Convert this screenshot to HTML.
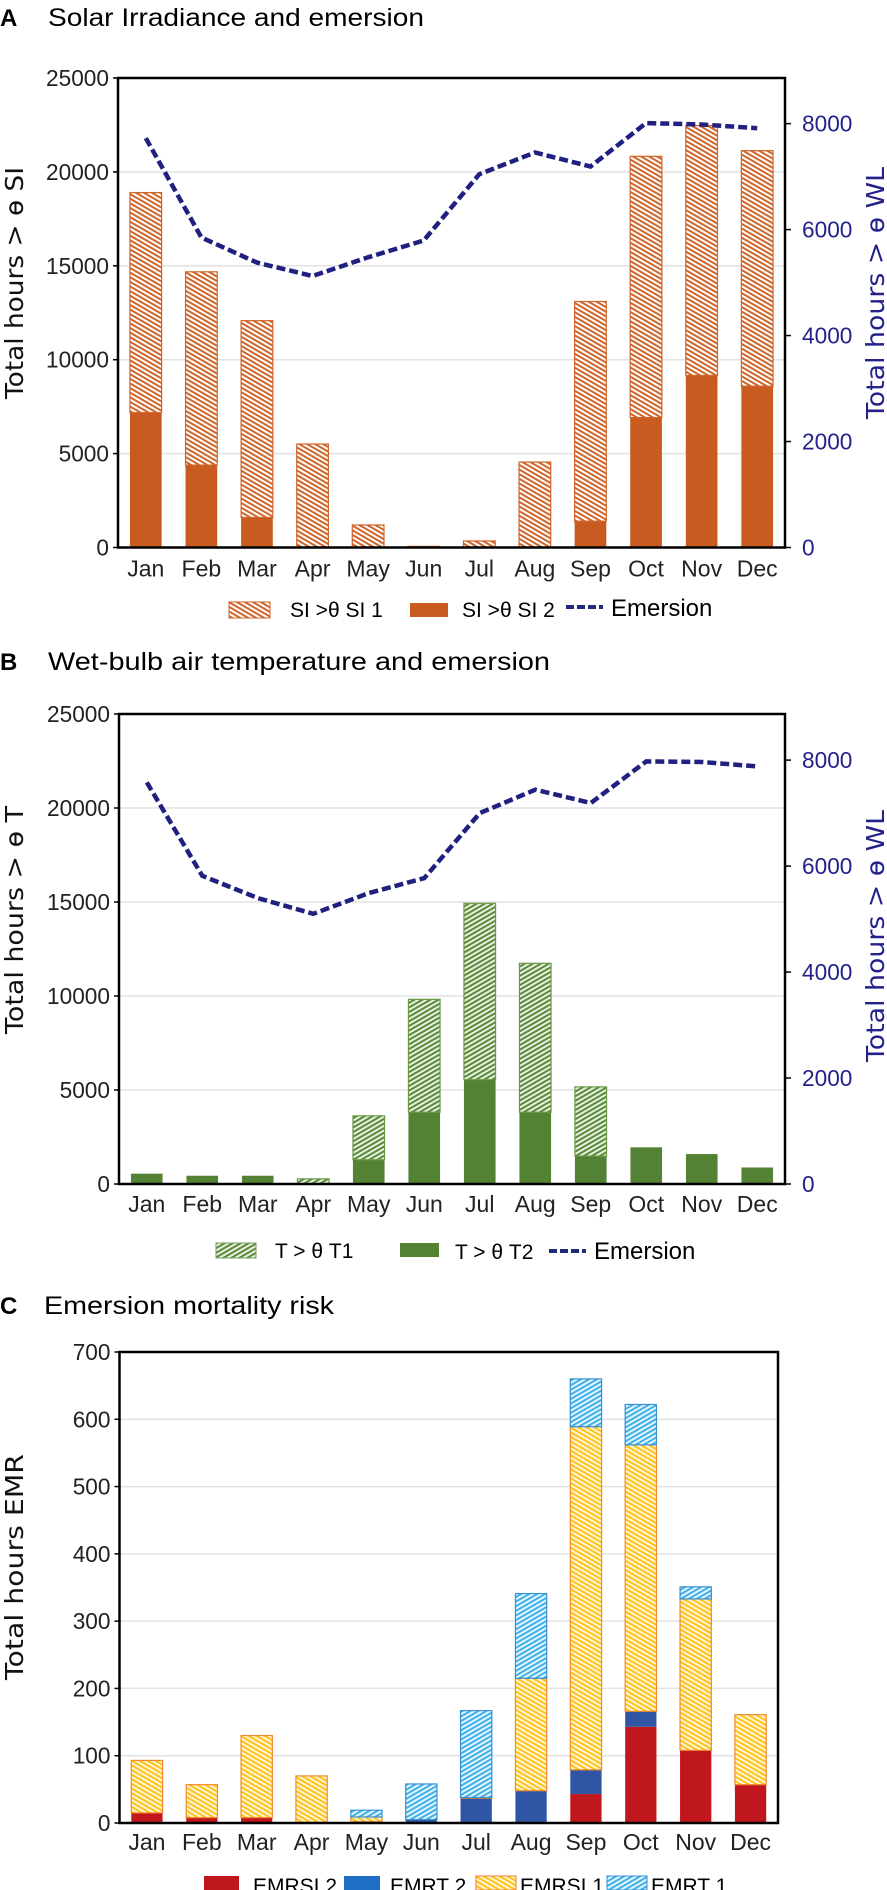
<!DOCTYPE html>
<html><head><meta charset="utf-8"><style>
html,body{margin:0;padding:0;background:#fff;}
svg{display:block;}
text{font-family:"Liberation Sans Narrow","Liberation Sans",sans-serif;}
.t{font-family:"DejaVu Sans","Liberation Sans",sans-serif;}
</style></head><body>
<svg id="chart" width="887" height="1890" viewBox="0 0 887 1890" xmlns="http://www.w3.org/2000/svg">
<defs>
<pattern id="pSI1" patternUnits="userSpaceOnUse" width="4" height="4" patternTransform="rotate(-60)"><rect width="4" height="4" fill="#fff"/><rect width="2" height="4" fill="#d0652a"/></pattern>
<pattern id="pT1" patternUnits="userSpaceOnUse" width="4" height="4" patternTransform="rotate(60)"><rect width="4" height="4" fill="#e8f0e0"/><rect width="2" height="4" fill="#5a8a3a"/></pattern>
<pattern id="pE1" patternUnits="userSpaceOnUse" width="4" height="4" patternTransform="rotate(-60)"><rect width="4" height="4" fill="#fff6d8"/><rect width="2" height="4" fill="#ffc21a"/></pattern>
<pattern id="pR1" patternUnits="userSpaceOnUse" width="4" height="4" patternTransform="rotate(60)"><rect width="4" height="4" fill="#e6f6ff"/><rect width="2" height="4" fill="#3fb0ea"/></pattern>
</defs>

<!-- Titles -->
<text x="0" y="26" font-size="24" font-weight="bold" font-family="Liberation Sans">A</text>
<text x="48" y="26" font-size="25" textLength="376" lengthAdjust="spacingAndGlyphs">Solar Irradiance and emersion</text>
<text x="0" y="670" font-size="24" font-weight="bold" font-family="Liberation Sans">B</text>
<text x="48" y="670" font-size="25" textLength="502" lengthAdjust="spacingAndGlyphs">Wet-bulb air temperature and emersion</text>
<text x="0" y="1314" font-size="24" font-weight="bold" font-family="Liberation Sans">C</text>
<text x="44" y="1314" font-size="25" textLength="290" lengthAdjust="spacingAndGlyphs" font-family="Liberation Sans">Emersion mortality risk</text>

<!-- Legend A -->
<g>
<rect x="229" y="602" width="41" height="16" fill="url(#pSI1)" stroke="#d0652a" stroke-width="1"/>
<text x="290" y="617" font-size="21">SI &gt;θ SI 1</text>
<rect x="410" y="603" width="38" height="14" fill="#c95a20"/>
<text x="462" y="617" font-size="21">SI &gt;θ SI 2</text>
<line x1="566" y1="607" x2="603" y2="607" stroke="#1f2a7a" stroke-width="4" stroke-dasharray="8 3"/>
<text x="611" y="616" font-size="24">Emersion</text>
</g>
<!-- Legend B -->
<g>
<rect x="216" y="1243" width="40" height="15" fill="url(#pT1)" stroke="#7aa060" stroke-width="1"/>
<text x="275" y="1258" font-size="21">T &gt; θ  T1</text>
<rect x="400" y="1243" width="39" height="14" fill="#548235"/>
<text x="455" y="1259" font-size="21">T &gt; θ  T2</text>
<line x1="549" y1="1251" x2="586" y2="1251" stroke="#1f2a7a" stroke-width="4" stroke-dasharray="8 3"/>
<text x="594" y="1259" font-size="24">Emersion</text>
</g>
<!-- Legend C -->
<g>
<rect x="204" y="1876" width="35" height="14" fill="#c0161e"/>
<text x="253" y="1893" font-size="21">EMRSI 2</text>
<rect x="344" y="1876" width="36" height="14" fill="#1f6fc4"/>
<text x="390" y="1893" font-size="21">EMRT 2</text>
<rect x="476" y="1876" width="40" height="14" fill="url(#pE1)" stroke="#ed7d31" stroke-width="1"/>
<text x="520" y="1893" font-size="21">EMRSI 1</text>
<rect x="607" y="1876" width="40" height="14" fill="url(#pR1)" stroke="#3a8fd0" stroke-width="1"/>
<text x="651" y="1893" font-size="21">EMRT 1</text>
</g>
</svg>
<script>
const months = ["Jan","Feb","Mar","Apr","May","Jun","Jul","Aug","Sep","Oct","Nov","Dec"];
// Panel A
const si2Hours = [7180,4390,1600,0,0,0,0,0,1400,6920,9160,8590];
const si1Hours = [11720,10290,10480,5510,1200,60,350,4550,11700,13910,13310,12540];
const emersionA = [7727,5850,5377,5125,5477,5795,7045,7455,7190,8009,7984,7914];
// Panel B
const t2Hours = [549,440,440,0,1291,3819,5550,3819,1484,1950,1593,879];
const t1Hours = [0,0,0,275,2335,6005,9380,7921,3681,0,0,0];
const emersionB = [7579,5817,5395,5099,5490,5773,7000,7441,7190,7976,7964,7881];
// Panel C
const emrsi2 = [15,8,8,1,2,0,0,0,43,143,108,57];
const emrt2 = [0,0,0,0,0,5,37,48,36,23,0,0];
const emrsi1 = [78,49,122,69,7,0,1,167,510,396,225,104];
const emrt1 = [0,0,0,0,10,53,129,126,71,60,18,0];
// Ticks
const leftTicksAB = [0,5000,10000,15000,20000,25000];
const rightTicksAB = [0,2000,4000,6000,8000];
const ticksC = [0,100,200,300,400,500,600,700];

const svg = document.getElementById('chart');
const NS = 'http://www.w3.org/2000/svg';
function mk(tag, attrs, parent) {
  const e = document.createElementNS(NS, tag);
  for (const k in attrs) e.setAttribute(k, attrs[k]);
  (parent || svg).appendChild(e);
  return e;
}

function panel(cfg) {
  const L = cfg.left, R = cfg.right, T = cfg.top, B = cfg.bottom;
  const band = (R - L) / 12;
  const y = v => B - v / cfg.max * (B - T);
  const x = i => L + band * (i + 0.5);
  const g = mk('g', {});
  
  
  // gridlines
  cfg.ticks.forEach(t => {
    if (t > 0 && t < cfg.max) {
      const gl = mk('line', {x1: L, x2: R, y1: y(t), y2: y(t), stroke: '#e2e2e2', 'stroke-width': 1.5}, g);
      
      
    }
    const lbl = mk('text', {x: L - 9, y: y(t) + 8, 'font-size': 23, 'text-anchor': 'end', fill: '#222', textLength: String(t).length * 12.6, lengthAdjust: 'spacingAndGlyphs'}, g);
    lbl.textContent = t;
    
    
    const tk = mk('line', {x1: L - 5, x2: L, y1: y(t), y2: y(t), stroke: '#000', 'stroke-width': 1.5}, g);
    
    
  });
  // bars
  const bw = band * 0.57;
  months.forEach((m, i) => {
    let base = 0;
    cfg.series.forEach(s => {
      const v = s.data[i];
      if (v > 0) {
        const r = mk('rect', {x: x(i) - bw / 2, y: y(base + v), width: bw, height: y(base) - y(base + v), fill: s.fill, stroke: s.stroke || 'none', 'stroke-width': s.stroke ? 1.2 : 0}, g);
        
        
      }
      base += v;
    });
    const ml = mk('text', {x: x(i), y: B + cfg.monthDy, 'font-size': 23, 'text-anchor': 'middle', fill: '#222'}, g);
    ml.textContent = m;
    
    
  });
  // right axis + line
  if (cfg.line) {
    const yr = v => B - v / cfg.rmax * (B - T);
    rightTicksAB.forEach(t => {
      const tk = mk('line', {x1: R, x2: R + 6, y1: yr(t), y2: yr(t), stroke: '#000', 'stroke-width': 1.5}, g);
      
      
      const lbl = mk('text', {x: R + 17, y: yr(t) + 8, 'font-size': 23, fill: '#22228a', textLength: String(t).length * 12.6, lengthAdjust: 'spacingAndGlyphs'}, g);
      lbl.textContent = t;
      
      
    });
    const pts = cfg.line.map((v, i) => x(i).toFixed(1) + ',' + yr(v).toFixed(1)).join(' ');
    const pl = mk('polyline', {points: pts, fill: 'none', stroke: '#1f2080', 'stroke-width': 4.5, 'stroke-dasharray': '9 4'}, g);
    
    
    const rt = mk('text', {x: 0, y: 0, 'font-size': 25, fill: '#22228a', class: 't', 'text-anchor': 'middle', textLength: cfg.rTitleLen, lengthAdjust: 'spacingAndGlyphs', transform: 'translate(884,' + cfg.rTitleY + ') rotate(-90)'}, g);
    rt.textContent = cfg.rTitle;
    
    
  }
  // frame
  const fr = mk('rect', {x: L, y: T, width: R - L, height: B - T, fill: 'none', stroke: '#000', 'stroke-width': 2.5}, g);
  
  
  const lt = mk('text', {x: 0, y: 0, 'font-size': 25, fill: '#111', class: 't', 'text-anchor': 'middle', textLength: cfg.lTitleLen, lengthAdjust: 'spacingAndGlyphs', transform: 'translate(23,' + cfg.lTitleY + ') rotate(-90)'}, g);
  lt.textContent = cfg.lTitle;
  
  
}

panel({name: 'panel-a', left: 118, right: 785, top: 78, bottom: 547.5, max: 25000, rmax: 8861, ticks: leftTicksAB, monthDy: 29,
  series: [{key: 'si2', data: si2Hours, fill: '#c95a20'}, {key: 'si1', data: si1Hours, fill: 'url(#pSI1)', stroke: '#d0652a'}],
  line: emersionA, lTitle: 'Total hours  >  ɵ SI', lTitleLen: 232, lTitleY: 283, rTitle: 'Total hours  >  ɵ WL', rTitleLen: 252, rTitleY: 293});
panel({name: 'panel-b', left: 119, right: 785, top: 714, bottom: 1184, max: 25000, rmax: 8870, ticks: leftTicksAB, monthDy: 28,
  series: [{key: 't2', data: t2Hours, fill: '#548235'}, {key: 't1', data: t1Hours, fill: 'url(#pT1)', stroke: '#6a9a48'}],
  line: emersionB, lTitle: 'Total hours  >  ɵ T', lTitleLen: 228, lTitleY: 920, rTitle: 'Total hours  >  ɵ WL', rTitleLen: 252, rTitleY: 936});
panel({name: 'panel-c', left: 119.5, right: 778, top: 1352, bottom: 1823, max: 700, ticks: ticksC, monthDy: 27,
  series: [{key: 'emrsi2', data: emrsi2, fill: '#c0161e'}, {key: 'emrt2', data: emrt2, fill: '#2f55a4'},
           {key: 'emrsi1', data: emrsi1, fill: 'url(#pE1)', stroke: '#f08a2a'}, {key: 'emrt1', data: emrt1, fill: 'url(#pR1)', stroke: '#3a8fd0'}],
  line: null, lTitle: 'Total hours EMR', lTitleLen: 226, lTitleY: 1567});
</script>
</body></html>
